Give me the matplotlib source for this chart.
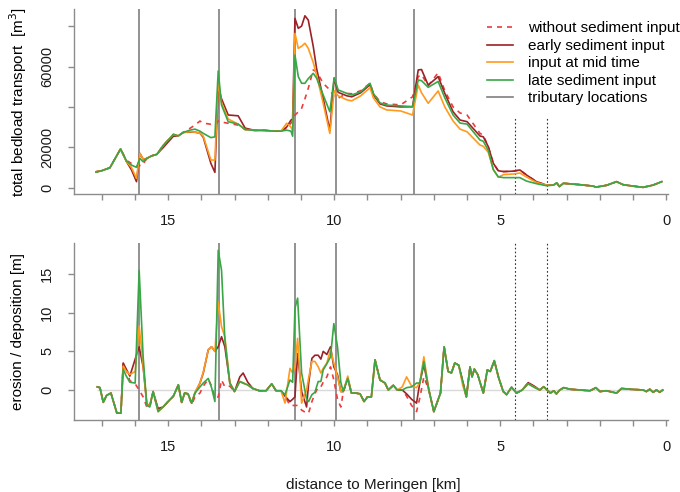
import matplotlib.pyplot as plt
from matplotlib.lines import Line2D

plt.rcParams['font.family'] = ['Liberation Sans', 'DejaVu Sans']

# tributary locations and the two dotted marks (km to Meringen)
tributaries = [15.87, 13.46, 11.19, 9.95, 7.60]
dotted_marks = [4.55, 3.59]

# ---- top panel: total bedload transport [m3] ----
km_top = [17.17, 17.0, 16.75, 16.43, 16.25, 16.1, 15.95, 15.85, 15.75, 15.69,
          15.49, 15.34, 15.14, 14.84, 14.69, 14.54, 14.34, 14.19, 14.04, 13.94,
          13.71, 13.59, 13.49, 13.39, 13.19, 12.89, 12.68, 12.4, 12.1, 11.8,
          11.6, 11.43, 11.3, 11.25, 11.18, 11.08, 10.98, 10.88, 10.78, 10.63,
          10.53, 10.33, 10.13, 10.0, 9.88, 9.62, 9.47, 9.2, 8.92, 8.82,
          8.62, 8.42, 8.0, 7.64, 7.47, 7.37, 7.17, 6.87, 6.67, 6.42,
          6.21, 6.0, 5.61, 5.51, 5.36, 5.21, 5.06, 4.9, 4.6, 4.41,
          4.21, 3.91, 3.61, 3.4, 3.3, 3.22, 3.1, 2.6, 2.2, 2.12,
          1.8, 1.5, 1.3, 1.0, 0.7, 0.4, 0.14]

top_without = [7900, 8400, 9900, 19200, 13500, 12000, 10500, 11000, 11200, 13500,
               15800, 16500, 21100, 26400, 25700, 27400, 29400, 31000, 33000, 32000,
               31400, 31000, 33000, 32500, 31900, 31000, 28800, 28400, 28400, 28000,
               28000, 29500, 32000, 33000, 36000, 37500, 39300, 44000, 49200, 58300,
               57400, 51700, 48400, 45000, 44300, 46700, 46500, 48000, 51700, 46700,
               42600, 41500, 41000, 45000, 55000, 56000, 50500, 56900, 48000, 40000,
               37000, 36000, 26900, 26000, 20300, 12100, 8400, 8000, 8200, 8800,
               6300, 3000, 1300, 1300, 2400, 600, 2200, 1500, 800, 300,
               1200, 3000, 1500, 800, 200, 1300, 3000]

top_early = [7900, 8400, 9900, 19200, 12900, 8800, 3000, 17000, 14200, 14200,
             15800, 16500, 20000, 25500, 25700, 27400, 27500, 27500, 27000, 25000,
             12000, 7600, 50000, 44000, 36000, 35600, 29500, 28400, 28400, 28000,
             28000, 30000, 33500, 34000, 83800, 78900, 80000, 85100, 83000, 70000,
             59100, 44300, 28100, 54100, 47200, 45500, 45000, 47000, 51000, 46000,
             41500, 40500, 40000, 40100, 58300, 58500, 50800, 55000, 46700, 37600,
             33500, 32700, 25600, 25200, 20300, 12100, 8400, 8000, 8200, 8800,
             6300, 3000, 1300, 1300, 2400, 600, 2200, 1500, 800, 300,
             1200, 3000, 1500, 800, 200, 1300, 3000]

top_mid = [7900, 8400, 9900, 19200, 12900, 10000, 4600, 17000, 14200, 14200,
           15800, 16500, 21100, 26400, 25700, 27400, 27700, 27500, 27000, 25500,
           13700, 13700, 52500, 42000, 34000, 31500, 28800, 28400, 28400, 28000,
           28000, 31900, 30000, 28000, 76400, 69000, 70000, 71500, 69000, 62000,
           55800, 41800, 26900, 48000, 45500, 43500, 43000, 45500, 49500, 44500,
           40000, 38500, 38000, 36000, 50800, 47000, 41800, 47900, 40000, 33000,
           29000, 27700, 21100, 20500, 17500, 9000, 5200, 6500, 6800, 7300,
           5300, 2600, 1300, 1300, 2400, 600, 2200, 1500, 800, 300,
           1200, 3000, 1500, 800, 200, 1300, 3000]

top_late = [7700, 8400, 9900, 19200, 13200, 11200, 10100, 14500, 12900, 14000,
            15800, 16500, 21100, 26400, 25700, 27400, 28500, 29000, 28000, 26900,
            24800, 25200, 57800, 40900, 32700, 31500, 28800, 28400, 28400, 28000,
            28000, 28500, 28000, 25500, 65700, 55000, 51700, 51700, 54000, 56600,
            54300, 45900, 37600, 54500, 48400, 46700, 45900, 47500, 51700, 46700,
            42000, 40900, 40500, 40100, 53300, 53000, 49700, 52600, 44500, 36000,
            32000, 31500, 23600, 23000, 18500, 9000, 5400, 5000, 5000, 5000,
            3300, 2000, 1000, 1300, 2400, 600, 2200, 1500, 800, 300,
            1200, 3000, 1500, 800, 200, 1300, 3000]

# ---- bottom panel: erosion / deposition [m] ----
km_bot = [17.13, 17.05, 16.95, 16.85, 16.72, 16.54, 16.42, 16.35, 16.27, 16.15,
          15.99, 15.87, 15.75, 15.64, 15.55, 15.45, 15.3, 15.15, 15.0, 14.84,
          14.69, 14.59, 14.5, 14.4, 14.29, 14.19, 14.04, 13.94, 13.79, 13.69,
          13.59, 13.49, 13.39, 13.29, 13.14, 13.0, 12.84, 12.74, 12.6, 12.45,
          12.25, 12.05, 11.88, 11.75, 11.6, 11.48, 11.33, 11.25, 11.18, 11.1,
          10.98, 10.83, 10.77, 10.67, 10.58, 10.48, 10.4, 10.33, 10.22, 10.11,
          10.01, 9.9, 9.8, 9.73, 9.59, 9.48, 9.35, 9.22, 9.1, 9.0,
          8.88, 8.77, 8.62, 8.47, 8.37, 8.22, 8.1, 7.95, 7.82, 7.67,
          7.52, 7.42, 7.3, 7.15, 7.0, 6.8, 6.69, 6.57, 6.47, 6.37,
          6.25, 6.13, 6.02, 5.91, 5.85, 5.78, 5.68, 5.51, 5.39, 5.3,
          5.18, 5.05, 4.91, 4.81, 4.66, 4.51, 4.34, 4.16, 3.96, 3.81,
          3.69, 3.59, 3.49, 3.39, 3.31, 3.21, 3.09, 2.9, 2.6, 2.3,
          2.12, 2.0, 1.8, 1.5, 1.35, 1.1, 0.7, 0.6, 0.5, 0.4,
          0.3, 0.2, 0.11]

bot_without = [0.4, 0.3, -1.6, -0.7, -0.4, -3.0, -3.0, 3.4, 2.7, 1.2,
               0.8, 0.0, -0.9, -2.2, -2.2, -0.3, -2.6, -2.2, -1.5, -0.8,
               0.65, -1.6, -0.4, -0.5, -1.9, -0.9, -0.4, 0.5, 1.4, 0.5,
               -1.0, -0.9, 1.3, 0.4, 0.5, -0.2, 1.1, 0.9, 0.65, 0.2,
               -0.1, -0.1, 0.8, -0.1, -0.1, -0.8, -2.0, -2.0, -2.0, -2.0,
               -2.6, -3.0, -3.0, -1.5, -0.5, 0.4, 0.4, 1.0, 1.7, 3.0,
               1.3, -1.2, -2.2, -0.4, 1.5, -0.4, -0.4, -0.5, -1.5, -0.9,
               -0.9, 3.9, 1.3, 0.9, 0.0, 0.6, 0.0, 0.0, -0.8, -2.0,
               -2.8, -1.0, 1.7, 0.0, -2.8, -0.4, 5.6, 2.4, 2.2, 3.5,
               3.2, 1.1, -0.9, 3.0, 1.7, 2.7, 2.0, -0.4, 2.6, 2.4,
               3.8, 1.6, -0.2, -0.6, 0.35, -0.4, 0.0, 0.95, 0.4, 0.0,
               0.43, 0.0, -0.4, -0.1, -0.5, 0.0, 0.3, 0.1, 0.0, -0.1,
               0.3, -0.2, -0.1, -0.4, 0.2, 0.1, 0.0, -0.2, 0.1, -0.3,
               0.0, -0.3, 0.0]

bot_early = [0.4, 0.3, -1.6, -0.7, -0.4, -3.0, -3.0, 3.5, 2.8, 1.8,
             4.0, 5.6, 3.0, -1.8, -2.0, -0.2, -2.4, -2.2, -1.5, -0.8,
             0.65, -1.6, -0.4, -0.5, -1.7, -0.4, 0.9, 2.2, 5.2, 5.6,
             5.0, 5.6, 6.9, 5.6, 0.9, -0.2, 1.7, 2.2, 1.0, 0.2,
             -0.1, -0.1, 0.8, -0.1, -0.1, -0.8, -1.5, -1.2, -0.9, 4.7,
             -0.2, -2.2, 0.8, 4.1, 4.5, 4.5, 4.0, 5.0, 4.6, 5.6,
             3.0, 2.0, -0.2, -0.2, 1.5, -0.4, -0.4, -0.5, -1.5, -0.9,
             -0.9, 3.9, 1.3, 0.9, 0.0, 0.6, 0.0, 0.0, -0.5, -1.2,
             -1.7, 1.0, 3.3, 0.0, -2.8, -0.4, 5.6, 2.4, 2.2, 3.5,
             3.2, 1.1, -0.9, 3.0, 1.7, 2.7, 2.0, -0.4, 2.6, 2.4,
             3.8, 1.6, -0.2, -0.6, 0.35, -0.4, 0.0, 0.95, 0.45, 0.0,
             0.43, 0.0, -0.4, -0.1, -0.5, 0.0, 0.3, 0.1, 0.0, -0.1,
             0.3, -0.2, -0.1, -0.4, 0.2, 0.1, 0.0, -0.2, 0.1, -0.3,
             0.0, -0.3, 0.0]

bot_mid = [0.4, 0.3, -1.6, -0.7, -0.4, -3.0, -3.0, 3.1, 2.5, 2.0,
           2.4, 8.3, 3.2, -1.9, -2.0, -0.2, -2.8, -2.2, -1.5, -0.8,
           0.65, -1.6, -0.4, -0.5, -1.7, -0.3, 0.9, 2.3, 5.2, 5.6,
           5.0, 11.4, 8.2, 6.9, 0.9, -0.2, 1.1, 0.9, 0.65, 0.2,
           -0.1, -0.1, 0.8, -0.1, -0.1, -1.7, 2.8, 2.2, 3.0, 6.7,
           -1.7, 0.0, 1.5, 3.7, 3.7, 3.0, 2.2, 2.8, 3.5, 5.2,
           3.5, 1.7, -0.2, -0.2, 1.8, -0.4, -0.4, -0.5, -1.5, -0.9,
           -0.9, 3.9, 1.3, 0.9, 0.0, 0.6, 0.0, 0.4, 1.7, 0.5,
           0.3, 1.0, 4.3, 0.0, -2.8, -0.4, 5.6, 2.4, 2.2, 3.5,
           3.2, 0.6, -0.9, 3.0, 1.7, 2.7, 2.0, -0.4, 2.6, 2.4,
           3.8, 1.6, -0.2, -0.6, 0.35, -0.4, 0.0, 0.8, 0.35, 0.0,
           0.43, 0.0, -0.4, -0.1, -0.5, 0.0, 0.3, 0.1, 0.0, -0.1,
           0.3, -0.2, -0.1, -0.4, 0.2, 0.1, 0.0, -0.2, 0.1, -0.3,
           0.0, -0.3, 0.0]

bot_late = [0.4, 0.3, -1.6, -0.7, -0.4, -3.0, -3.0, 2.7, 1.9, 1.0,
            0.9, 15.5, 4.3, -2.0, -2.2, -0.2, -2.8, -2.2, -1.5, -0.8,
            0.65, -1.6, -0.4, -0.5, -1.7, -0.4, 0.4, 0.9, 1.5, 0.3,
            -1.5, 18.1, 15.5, 6.5, 0.9, -0.2, 1.1, 0.9, 0.65, 0.2,
            -0.1, -0.1, 0.8, -0.1, -0.1, -0.6, 1.3, 1.0, 10.6, 11.9,
            2.2, -1.2, -1.5, -0.6, -0.3, 1.1, 1.1, 2.6, 3.4, 4.3,
            8.6, 5.6, 1.0, -0.2, 1.5, -0.4, -0.4, -0.5, -1.5, -0.9,
            -0.9, 3.9, 1.3, 0.9, 0.0, 0.6, 0.0, 0.0, 0.3, 0.4,
            0.9, 0.9, 3.7, 0.0, -2.8, -0.4, 5.6, 2.4, 2.2, 3.5,
            3.2, 1.1, -0.9, 3.0, 1.7, 2.7, 2.0, -0.4, 2.6, 2.4,
            3.8, 1.6, -0.2, -0.6, 0.35, -0.4, 0.0, 0.8, 0.3, 0.0,
            0.43, 0.0, -0.4, -0.1, -0.5, 0.0, 0.3, 0.1, 0.0, -0.1,
            0.3, -0.2, -0.1, -0.4, 0.2, 0.1, 0.0, -0.2, 0.1, -0.3,
            0.0, -0.3, 0.0]

labels = ["without sediment input", "early sediment input",
          "input at mid time", "late sediment input", "tributary locations"]
c_without = '#ee3b3b'
c_early = '#9b2226'
c_mid = '#ff9a1f'
c_late = '#3aa646'
c_trib = '#7f7f7f'
axis_grey = '#8c8c8c'

fig = plt.figure(figsize=(6.8, 4.92), dpi=100)
ax1 = fig.add_axes([0.1084, 0.605, 0.874, 0.3767])
ax2 = fig.add_axes([0.1084, 0.1463, 0.874, 0.3598])


def style_axis(ax):
    for s in ['top', 'right']:
        ax.spines[s].set_visible(False)
    for s in ['left', 'bottom']:
        ax.spines[s].set_color(axis_grey)
        ax.spines[s].set_linewidth(1.0)
    ax.set_xlim(17.84, -0.05)
    ax.set_xticks([15, 10, 5, 0])
    ax.set_xticks(list(range(0, 18)), minor=True)
    ax.tick_params(which='both', direction='out', length=4.5, width=1.0,
                   color=axis_grey, labelcolor='#1a1a1a', labelsize=10.5)
    ax.tick_params(axis='x', pad=10)
    ax.tick_params(axis='y', pad=9.5, labelrotation=90)
    for lab in ax.get_yticklabels():
        lab.set_va('center')
    for t in tributaries:
        ax.axvline(t, color=c_trib, lw=1.2, zorder=1)
    for d in dotted_marks:
        ax.axvline(d, color='#333333', lw=0.8, ls=(0, (1.5, 2)), zorder=1)


def draw_series(ax, km, w, e, m, l):
    ax.plot(km, w, color=c_without, lw=1.2, ls=(0, (3, 3)), zorder=3)
    ax.plot(km, e, color=c_early, lw=1.2, zorder=4)
    ax.plot(km, m, color=c_mid, lw=1.2, zorder=5)
    ax.plot(km, l, color=c_late, lw=1.2, zorder=6)


# top panel
draw_series(ax1, km_top, top_without, top_early, top_mid, top_late)
ax1.set_ylim(-3270, 88460)
ax1.set_yticks([0, 20000, 40000, 60000, 80000])
ax1.set_yticklabels(['0', '20000', '', '60000', ''])
style_axis(ax1)
ax1.set_ylabel('total bedload transport  [m$^3$]', fontsize=11, va='center')
ax1.yaxis.set_label_coords(-0.0937, 0.5)

handles = [Line2D([], [], color=c_without, lw=1.2, ls=(0, (3, 3))),
           Line2D([], [], color=c_early, lw=1.2),
           Line2D([], [], color=c_mid, lw=1.2),
           Line2D([], [], color=c_late, lw=1.2),
           Line2D([], [], color=c_trib, lw=1.2)]
leg = ax1.legend(handles, labels, loc='upper left',
                 bbox_to_anchor=(0.6978, 0.9813), bbox_transform=fig.transFigure,
                 fontsize=11, frameon=True, fancybox=False, framealpha=1,
                 facecolor='white', edgecolor='none', borderpad=0.8,
                 labelspacing=0.23, handlelength=1.72, handletextpad=0.96,
                 borderaxespad=0)
leg.set_zorder(10)

# bottom panel
ax2.hlines(0, km_bot[-1], km_bot[0], color='#d9d9d9', lw=1.0, zorder=1)
draw_series(ax2, km_bot, bot_without, bot_early, bot_mid, bot_late)
ax2.set_ylim(-3.89, 19.04)
ax2.set_yticks([0, 5, 10, 15])
style_axis(ax2)
ax2.set_ylabel('erosion / deposition [m]', fontsize=11, va='center')
ax2.yaxis.set_label_coords(-0.0937, 0.5)

fig.text(373 / 680, 1 - 485 / 492, 'distance to Meringen [km]',
         ha='center', va='center', fontsize=11, color='#1a1a1a')

fig.savefig('out.png', dpi=100)
